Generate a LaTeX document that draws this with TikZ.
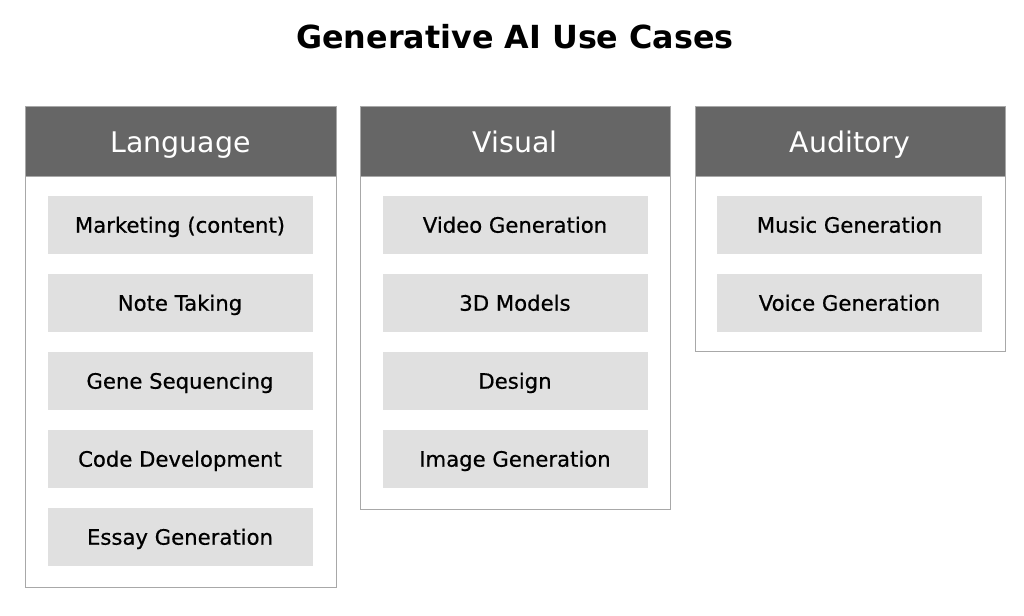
\documentclass[tikz,border=0pt]{standalone}
\usepackage{fontspec}
\setmainfont{DejaVu Sans}
\newfontfamily\medfont[FakeBold=0.6]{DejaVu Sans}
\definecolor{hdr}{HTML}{666666}
\definecolor{itm}{HTML}{E0E0E0}
\definecolor{frm}{HTML}{A8A8A8}
\begin{document}
\begin{tikzpicture}[x=1pt,y=-1pt,
  panel/.style={draw=frm, line width=1pt, fill=white},
  headbar/.style={fill=hdr, draw=frm, line width=1pt},
  head/.style={text=white, font=\fontsize{28.4}{32}\selectfont, inner sep=0pt, text height=20.7pt, text depth=0pt},
  item/.style={fill=itm, draw=none, font=\medfont\fontsize{21.2}{25}\selectfont, text=black, inner sep=0pt, minimum width=265pt, minimum height=58pt, text height=15.4pt, text depth=0pt},
  ttl/.style={font=\bfseries\fontsize{31.8}{36}\selectfont, inner sep=0pt, text height=23.2pt, text depth=0pt}]
\useasboundingbox (0,0) rectangle (1024,615);
\node[ttl] (title) at (515,36.5) {Generative AI Use Cases};
% Language
\draw[panel] (25,107) rectangle (336,587);
\draw[headbar] (25,107) rectangle (336,176);
\node[head] (hl) at (180.5,142.5) {Language};
\node[item] (l1) at (180,225) {Marketing (content)};
\node[item] (l2) at (180,303) {Note Taking};
\node[item] (l3) at (180,381) {Gene Sequencing};
\node[item] (l4) at (180,459) {Code Development};
\node[item] (l5) at (180,537) {Essay Generation};
% Visual
\draw[panel] (360,107) rectangle (670,509);
\draw[headbar] (360,107) rectangle (670,176);
\node[head] (hv) at (515,142.5) {Visual};
\node[item] (v1) at (515,225) {Video Generation};
\node[item] (v2) at (515,303) {3D Models};
\node[item] (v3) at (515,381) {Design};
\node[item] (v4) at (515,459) {Image Generation};
% Auditory
\draw[panel] (695,107) rectangle (1005,351);
\draw[headbar] (695,107) rectangle (1005,176);
\node[head] (ha) at (850,142.5) {Auditory};
\node[item] (a1) at (849.5,225) {Music Generation};
\node[item] (a2) at (849.5,303) {Voice Generation};
\end{tikzpicture}
\end{document}
